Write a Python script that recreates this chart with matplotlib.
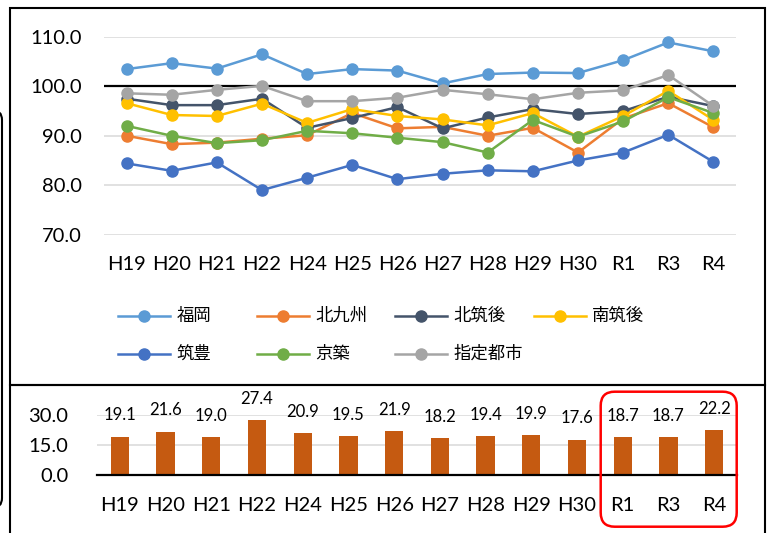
import numpy as np
import matplotlib.pyplot as plt
from matplotlib.lines import Line2D
from matplotlib.patches import Rectangle, FancyBboxPatch
from matplotlib.transforms import IdentityTransform

plt.rcParams['font.family'] = ['Lato', 'Noto Sans CJK JP', 'DejaVu Sans']

years = ['H19', 'H20', 'H21', 'H22', 'H24', 'H25', 'H26',
         'H27', 'H28', 'H29', 'H30', 'R1', 'R3', 'R4']

# index values by region (指定都市 = designated cities average)
fukuoka    = [103.5, 104.7, 103.6, 106.5, 102.5, 103.5, 103.2, 100.6, 102.5, 102.8, 102.7, 105.3, 108.9, 107.1]
kitakyu    = [90.0, 88.3, 88.6, 89.4, 90.1, 94.6, 91.5, 91.8, 90.0, 91.6, 86.6, 93.5, 96.6, 91.7]
kitachiku  = [97.5, 96.2, 96.2, 97.5, 91.6, 93.6, 95.8, 91.5, 93.7, 95.4, 94.4, 95.0, 97.9, 96.0]
minamichik = [96.6, 94.2, 94.0, 96.5, 92.6, 95.4, 94.0, 93.3, 92.1, 94.6, 89.8, 94.0, 99.1, 93.2]
chikuho    = [84.4, 82.9, 84.6, 79.0, 81.5, 84.1, 81.2, 82.3, 83.0, 82.8, 85.0, 86.6, 90.2, 84.7]
keichiku   = [92.0, 90.0, 88.5, 89.1, 91.0, 90.5, 89.6, 88.7, 86.6, 93.2, 89.8, 92.9, 97.8, 94.6]
shitei     = [98.6, 98.3, 99.3, 100.1, 97.0, 97.0, 97.7, 99.3, 98.4, 97.4, 98.7, 99.2, 102.3, 96.0]

series = [
    ('福岡', fukuoka, '#5B9BD5'),
    ('北九州', kitakyu, '#ED7D31'),
    ('北筑後', kitachiku, '#44546A'),
    ('南筑後', minamichik, '#FFC000'),
    ('筑豊', chikuho, '#4472C4'),
    ('京築', keichiku, '#70AD47'),
    ('指定都市', shitei, '#A5A5A5'),
]

# gap between 福岡 and the lowest region
gap = [19.1, 21.6, 19.0, 27.4, 20.9, 19.5, 21.9, 18.2, 19.4, 19.9, 17.6, 18.7, 18.7, 22.2]

W, H = 769, 533
fig = plt.figure(figsize=(W / 100, H / 100), dpi=100)
px = IdentityTransform()


def box(left, top, right, bottom):
    # pixel edges (from top-left) -> figure fraction rect
    return [left / W, 1 - bottom / H, (right - left) / W, (bottom - top) / H]


x = np.arange(len(years))

# ---- line chart ----
ax = fig.add_axes(box(104, 37, 736, 234.5))
ax.axhline(100, color='black', lw=1.6, zorder=2)
for name, vals, col in series:
    ax.plot(x, vals, color=col, lw=1.8, marker='o', ms=8, zorder=3, clip_on=False)
ax.set_xlim(-0.5, len(years) - 0.5)
ax.set_ylim(70, 110)
ax.set_yticks(np.arange(70, 111, 10))
ax.yaxis.set_major_formatter(lambda v, p: f'{v:.1f}')
ax.set_xticks(x, years)
ax.grid(axis='y', color='#D9D9D9', lw=1.1, zorder=1)
ax.set_axisbelow(True)
ax.tick_params(axis='both', length=0, labelsize=14.5)
ax.tick_params(axis='x', pad=15.5)
ax.tick_params(axis='y', pad=16)
for s in ax.spines.values():
    s.set_visible(False)

# legend, laid out in even columns
for i, (name, vals, col) in enumerate(series):
    row, c = divmod(i, 4)
    ly = H - (316 + 38 * row)
    lx = 118.3 + 138.4 * c
    fig.add_artist(Line2D([lx, lx + 26, lx + 52], [ly, ly, ly], transform=px,
                          color=col, lw=1.8, marker='o', ms=8, markevery=[1]))
    fig.text(lx + 58.4, ly, name, transform=px, va='center', ha='left',
             fontsize=12.5, family=['Noto Sans CJK JP', 'DejaVu Sans'])

# ---- bar chart ----
bx = fig.add_axes(box(97, 414.7, 737, 475))
bars = bx.bar(x, gap, width=0.4, color='#C55A11', zorder=2)
bx.bar_label(bars, labels=[f'{v:.1f}' for v in gap], padding=9.5, fontsize=12)
bx.set_xlim(-0.5, len(years) - 0.5)
bx.set_ylim(0, 30)
bx.set_yticks([0, 15, 30])
bx.yaxis.set_major_formatter(lambda v, p: f'{v:.1f}')
bx.set_xticks(x, years)
bx.grid(axis='y', color='#D9D9D9', lw=1.1, zorder=1)
bx.set_axisbelow(True)
bx.tick_params(axis='both', length=0, labelsize=14.5)
bx.tick_params(axis='x', pad=15.5)
bx.tick_params(axis='y', pad=20.5)
for s in ['top', 'left', 'right']:
    bx.spines[s].set_visible(False)
bx.spines['bottom'].set_color('black')
bx.spines['bottom'].set_linewidth(1.6)
bx.spines['bottom'].set_zorder(3)

# ---- frames ----
fig.add_artist(Rectangle((10, 148), 755, 377.5, transform=px,
                         fill=False, ec='black', lw=1.5))
fig.add_artist(Rectangle((10, -10), 755, 158, transform=px,
                         fill=False, ec='black', lw=1.5))
fig.add_artist(FancyBboxPatch((-40, H - 508), 42, 398, transform=px,
                              boxstyle='round,pad=0,rounding_size=10',
                              fill=False, ec='black', lw=1.5))
fig.add_artist(FancyBboxPatch((600.7, H - 526.7), 136, 135, transform=px,
                              boxstyle='round,pad=0,rounding_size=14',
                              fill=False, ec='#FF0000', lw=1.8))

fig.savefig('out.png', dpi=100)
